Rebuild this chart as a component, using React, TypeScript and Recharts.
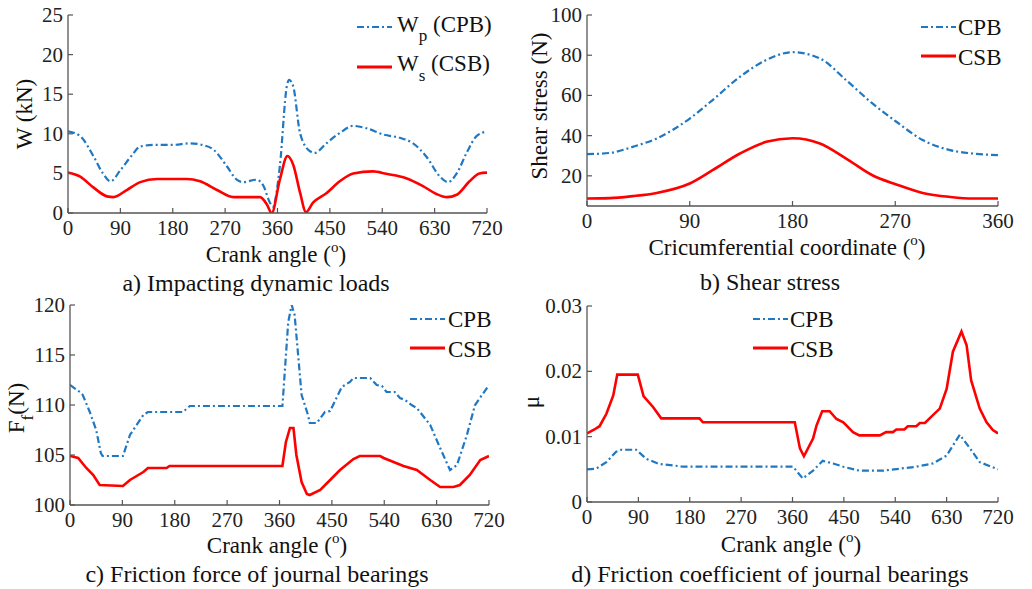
import React from 'react';
import { LineChart, Line, XAxis, YAxis } from 'recharts';

const FONT = "'Liberation Serif', 'DejaVu Serif', serif";
const BLUE = '#1f78c1';
const RED = '#ff0000';
const AXIS = '#555555';
const DASH = '7 3 2 3';

// ---- Panel a: Impacting dynamic loads ----
const aCpbAngle = [0, 21, 45, 60, 73, 90, 110, 124, 150, 180, 210, 230, 250, 273, 290, 301, 324, 336, 347, 352, 364, 376, 380, 387, 399, 416, 424, 444, 467, 490, 513, 542, 570, 593, 616, 639, 653, 668, 685, 702, 720];
const aCpbValue = [10.3, 9.7, 7.0, 5.0, 4.0, 5.4, 7.3, 8.4, 8.6, 8.6, 8.8, 8.6, 8.0, 5.9, 4.2, 3.9, 4.2, 3.4, 1.3, 0.8, 5.9, 16.0, 16.8, 16.0, 10.0, 7.8, 7.6, 8.8, 10.1, 11.0, 10.7, 9.9, 9.5, 8.8, 7.1, 4.6, 3.9, 5.0, 7.6, 9.7, 10.3];
const aCsbAngle = [0, 21, 44, 67, 78, 101, 124, 153, 204, 227, 256, 284, 307, 330, 342, 350, 364, 377, 387, 399, 409, 421, 444, 467, 490, 524, 547, 581, 610, 633, 651, 668, 690, 707, 720];
const aCsbValue = [5.1, 4.6, 3.2, 2.1, 2.0, 2.9, 3.9, 4.3, 4.3, 4.0, 2.9, 2.0, 2.0, 2.0, 1.05, 0.0, 4.2, 7.2, 6.1, 2.5, 0.1, 1.3, 2.5, 4.0, 5.0, 5.25, 4.95, 4.4, 3.4, 2.4, 2.0, 2.3, 4.0, 5.0, 5.1];

// ---- Panel b: Shear stress ----
const bCoord = [0, 20, 40, 61, 90, 110, 134, 157, 180, 204, 227, 250, 271, 294, 318, 338, 360];
const bCpbValue = [30.8, 31.4, 34.4, 38.6, 48.5, 57.7, 69.3, 77.6, 81.5, 78.4, 67.6, 56.0, 46.9, 37.8, 32.8, 31.1, 30.3];
const bCsbValue = [8.7, 8.9, 9.9, 11.5, 16.2, 22.8, 31.1, 36.9, 38.7, 36.1, 28.6, 20.3, 15.7, 11.5, 9.5, 8.7, 8.7];

// ---- Panel c: Friction force ----
const cCpbAngle = [0, 17, 22, 34, 45, 53, 56, 91, 103, 126, 134, 194, 206, 365, 375, 381, 386, 398, 409, 412, 424, 438, 447, 467, 481, 487, 516, 527, 536, 544, 558, 567, 576, 587, 596, 619, 636, 653, 665, 682, 696, 720];
const cCpbValue = [112, 111.3, 111, 109.3, 107.5, 105.2, 104.9, 104.9, 107, 109, 109.3, 109.3, 109.9, 109.9, 118.3, 120, 119, 111, 109, 108.2, 108.2, 109.3, 109.4, 111.8, 112.3, 112.7, 112.7, 112, 111.9, 111.3, 111.3, 110.7, 110.5, 110, 109.7, 108, 105.7, 103.5, 104, 107, 110, 112];
const cCsbAngle = [0, 14, 28, 40, 51, 91, 103, 126, 134, 166, 171, 365, 371, 378, 384, 389, 398, 407, 412, 430, 447, 464, 487, 498, 533, 539, 556, 573, 596, 619, 636, 659, 670, 687, 705, 720];
const cCsbValue = [104.9, 104.7, 103.7, 103, 102, 101.9, 102.5, 103.3, 103.7, 103.7, 103.9, 103.9, 106.3, 107.7, 107.7, 105, 102.3, 101.1, 101, 101.5, 102.5, 103.5, 104.6, 104.9, 104.9, 104.7, 104.3, 103.9, 103.5, 102.5, 101.8, 101.8, 102, 103, 104.5, 104.9];

// ---- Panel d: Friction coefficient ----
const dCpbAngle = [0, 16, 34, 51, 60, 86, 104, 127, 151, 168, 361, 378, 396, 413, 431, 449, 477, 519, 548, 577, 606, 630, 653, 671, 688, 720];
const dCpbValue = [0.005, 0.0051, 0.0061, 0.0077, 0.008, 0.008, 0.0066, 0.0058, 0.0056, 0.0054, 0.0054, 0.0036, 0.0048, 0.0063, 0.0059, 0.0054, 0.0048, 0.0048, 0.0051, 0.0054, 0.0059, 0.0071, 0.0103, 0.0082, 0.0061, 0.005];
const dCsbAngle = [0, 13, 22, 34, 46, 53, 89, 99, 116, 130, 197, 203, 364, 373, 380, 396, 402, 412, 425, 437, 449, 466, 477, 513, 524, 536, 542, 556, 562, 577, 583, 592, 606, 618, 630, 641, 656, 665, 673, 688, 700, 711, 720];
const dCsbValue = [0.0105, 0.0111, 0.0116, 0.0135, 0.0163, 0.0195, 0.0195, 0.0162, 0.0145, 0.0128, 0.0128, 0.0122, 0.0122, 0.0082, 0.007, 0.0097, 0.0117, 0.0139, 0.0139, 0.0127, 0.0122, 0.0107, 0.0102, 0.0102, 0.0107, 0.0107, 0.0111, 0.0111, 0.0116, 0.0116, 0.0121, 0.0121, 0.0133, 0.0143, 0.0173, 0.023, 0.0261, 0.024, 0.0186, 0.0143, 0.0122, 0.011, 0.0105];

// ---- tick labels ----
const crankTicks = [0, 90, 180, 270, 360, 450, 540, 630, 720];
const coordTicks = [0, 90, 180, 270, 360];
const aYTicks = [0, 5, 10, 15, 20, 25];
const bYTicks = [20, 40, 60, 80, 100];
const cYTicks = [100, 105, 110, 115, 120];
const dYTicks = [0, 0.01, 0.02, 0.03];

const toPts = (xs: number[], ys: number[]) => xs.map((x, i) => ({ x, y: ys[i] }));

const fontStyle = { fontFamily: FONT };

const XTick = (props: any) => {
  const { x, y, payload } = props;
  return (
    <g>
      <line x1={x} y1={y} x2={x} y2={y - 5} stroke={AXIS} strokeWidth={1.2} />
      <text x={x} y={y + 22} textAnchor="middle" style={fontStyle} fontSize={21} fill="#222">
        {String(payload.value)}
      </text>
    </g>
  );
};

const YTick = (props: any) => {
  const { x, y, payload } = props;
  return (
    <g>
      <line x1={x} y1={y} x2={x + 5} y2={y} stroke={AXIS} strokeWidth={1.2} />
      <text x={x - 5} y={y + 7} textAnchor="end" style={fontStyle} fontSize={21} fill="#222">
        {String(payload.value)}
      </text>
    </g>
  );
};

type PanelProps = {
  left: number; right: number; top: number; bottom: number;
  xDomain: [number, number]; xTicks: number[];
  yDomain: [number, number]; yTicks: number[];
  cpb: { x: number; y: number }[]; csb: { x: number; y: number }[];
  curve: 'monotone' | 'linear';
};

const YW = 50;
const XH = 30;

function Panel(p: PanelProps) {
  return (
    <div style={{ position: 'absolute', left: 0, top: 0 }}>
      <LineChart
        width={1032}
        height={589}
        margin={{ left: p.left - YW, right: 1032 - p.right, top: p.top, bottom: 589 - p.bottom - XH }}
      >
        <XAxis
          type="number"
          dataKey="x"
          domain={p.xDomain}
          ticks={p.xTicks}
          interval={0}
          tickLine={false}
          tickSize={0}
          tickMargin={0}
          tick={<XTick />}
          axisLine={{ stroke: AXIS, strokeWidth: 1.3 }}
          height={XH}
          allowDataOverflow
        />
        <YAxis
          type="number"
          dataKey="y"
          domain={p.yDomain}
          ticks={p.yTicks}
          interval={0}
          tickLine={false}
          tickSize={0}
          tickMargin={0}
          tick={<YTick />}
          axisLine={{ stroke: AXIS, strokeWidth: 1.3 }}
          width={YW}
          allowDataOverflow
        />
        <Line data={p.cpb} dataKey="y" type={p.curve} stroke={BLUE} strokeWidth={2.2}
          strokeDasharray={DASH} dot={false} activeDot={false} isAnimationActive={false} />
        <Line data={p.csb} dataKey="y" type={p.curve} stroke={RED} strokeWidth={2.6}
          dot={false} activeDot={false} isAnimationActive={false} />
      </LineChart>
    </div>
  );
}

const T = (props: any) => <text style={fontStyle} fill="#111" {...props} />;

function LegendRow({ x, y, dashed, children }: any) {
  return (
    <g>
      <line x1={x} y1={y} x2={x + 35} y2={y} stroke={dashed ? BLUE : RED}
        strokeWidth={dashed ? 2.2 : 2.8} strokeDasharray={dashed ? DASH : undefined} />
      {children}
    </g>
  );
}

function Overlay() {
  return (
    <svg width={1032} height={589} style={{ position: 'absolute', left: 0, top: 0, pointerEvents: 'none' }}>
      {/* Panel a */}
      <LegendRow x={357} y={27} dashed>
        <T x={397} y={32} fontSize={23}>W<tspan fontSize={17} dy={9}>p</tspan><tspan fontSize={23} dy={-9}> (CPB)</tspan></T>
      </LegendRow>
      <LegendRow x={357} y={67}>
        <T x={397} y={71} fontSize={23}>W<tspan fontSize={17} dy={10}>s</tspan><tspan fontSize={23} dy={-10}> (CSB)</tspan></T>
      </LegendRow>
      <T x={32} y={114} fontSize={23} textAnchor="middle" transform="rotate(-90 32 114)">W (kN)</T>
      <T x={276} y={262} fontSize={23} textAnchor="middle">Crank angle (<tspan fontSize={15} dy={-10}>o</tspan><tspan fontSize={23} dy={10}>)</tspan></T>
      <T x={256} y={291} fontSize={24} textAnchor="middle">a) Impacting dynamic loads</T>

      {/* Panel b */}
      <LegendRow x={921} y={27} dashed>
        <T x={958} y={35} fontSize={23}>CPB</T>
      </LegendRow>
      <LegendRow x={921} y={56}>
        <T x={958} y={65} fontSize={23}>CSB</T>
      </LegendRow>
      <T x={547} y={106} fontSize={23} textAnchor="middle" transform="rotate(-90 547 106)">Shear stress (N)</T>
      <T x={787} y={255} fontSize={23} textAnchor="middle">Cricumferential coordinate (<tspan fontSize={15} dy={-10}>o</tspan><tspan fontSize={23} dy={10}>)</tspan></T>
      <T x={770} y={290} fontSize={24} textAnchor="middle">b) Shear stress</T>

      {/* Panel c */}
      <LegendRow x={410} y={319} dashed>
        <T x={448} y={327} fontSize={23}>CPB</T>
      </LegendRow>
      <LegendRow x={410} y={348}>
        <T x={448} y={357} fontSize={23}>CSB</T>
      </LegendRow>
      <T x={24} y={408} fontSize={23} textAnchor="middle" transform="rotate(-90 24 408)">F<tspan fontSize={17} dy={9}>f</tspan><tspan fontSize={23} dy={-9}>(N)</tspan></T>
      <T x={277} y={553} fontSize={23} textAnchor="middle">Crank angle (<tspan fontSize={15} dy={-10}>o</tspan><tspan fontSize={23} dy={10}>)</tspan></T>
      <T x={257} y={582} fontSize={24} textAnchor="middle">c) Friction force of journal bearings</T>

      {/* Panel d */}
      <LegendRow x={753} y={319} dashed>
        <T x={790} y={327} fontSize={23}>CPB</T>
      </LegendRow>
      <LegendRow x={753} y={348}>
        <T x={790} y={357} fontSize={23}>CSB</T>
      </LegendRow>
      <T x={539} y={402} fontSize={23} textAnchor="middle" transform="rotate(-90 539 402)">μ</T>
      <T x={791} y={552} fontSize={23} textAnchor="middle">Crank angle (<tspan fontSize={15} dy={-10}>o</tspan><tspan fontSize={23} dy={10}>)</tspan></T>
      <T x={770} y={582} fontSize={24} textAnchor="middle">d) Friction coefficient of journal bearings</T>
    </svg>
  );
}

export default function App() {
  return (
    <div style={{ position: 'absolute', left: 0, top: 0, width: 1032, height: 589, background: '#fff', overflow: 'hidden', fontFamily: FONT }}>
      <Panel left={68} right={487} top={15} bottom={213} xDomain={[0, 720]} xTicks={crankTicks}
        yDomain={[0, 25]} yTicks={aYTicks} cpb={toPts(aCpbAngle, aCpbValue)} csb={toPts(aCsbAngle, aCsbValue)} curve="monotone" />
      <Panel left={587} right={998} top={15} bottom={206} xDomain={[0, 360]} xTicks={coordTicks}
        yDomain={[5, 100]} yTicks={bYTicks} cpb={toPts(bCoord, bCpbValue)} csb={toPts(bCoord, bCsbValue)} curve="monotone" />
      <Panel left={70} right={489} top={305} bottom={505} xDomain={[0, 720]} xTicks={crankTicks}
        yDomain={[100, 120]} yTicks={cYTicks} cpb={toPts(cCpbAngle, cCpbValue)} csb={toPts(cCsbAngle, cCsbValue)} curve="linear" />
      <Panel left={587} right={998} top={306} bottom={502} xDomain={[0, 720]} xTicks={crankTicks}
        yDomain={[0, 0.03]} yTicks={dYTicks} cpb={toPts(dCpbAngle, dCpbValue)} csb={toPts(dCsbAngle, dCsbValue)} curve="linear" />
      <Overlay />
    </div>
  );
}
